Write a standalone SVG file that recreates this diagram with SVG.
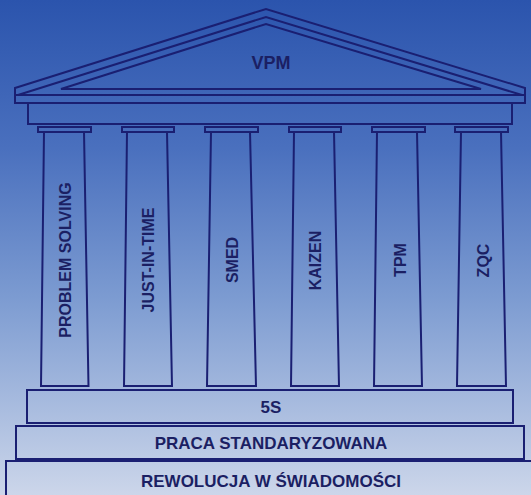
<svg xmlns="http://www.w3.org/2000/svg" width="531" height="495" viewBox="0 0 531 495">
  <defs>
    <linearGradient id="bg" x1="0" y1="0" x2="0" y2="1">
      <stop offset="0" stop-color="#2b54ad"/>
      <stop offset="0.3" stop-color="#4a70be"/>
      <stop offset="0.6" stop-color="#7c9bd1"/>
      <stop offset="1" stop-color="#ccd6ea"/>
    </linearGradient>
  </defs>
  <style>
    .ln { fill: none; stroke: #1a1f72; stroke-width: 2; stroke-linejoin: miter; }
    .tx { font-family: "Liberation Sans", Arial, sans-serif; font-weight: bold; fill: #1b1f63; text-anchor: middle; }
    .pil { font-size: 16px; }
    .base { font-size: 17px; }
  </style>
  <rect x="0" y="0" width="531" height="495" fill="url(#bg)"/>

  <g id="roof">
    <polygon class="ln" points="15,88 266,9 525,88 525,103 15,103"/>
    <line class="ln" x1="15" y1="95" x2="525" y2="95"/>
    <polyline class="ln" points="18,95 266,17 522,95"/>
    <polygon class="ln" points="61,89 266,24 481,89"/>
    <text class="tx" x="271" y="69" font-size="18">VPM</text>
  </g>

  <g id="architrave">
    <rect class="ln" x="28" y="103" width="484" height="21"/>
  </g>

  <g id="col-problem-solving">
    <rect class="ln" x="38" y="127" width="53" height="5"/>
    <polygon class="ln" points="44,132 84,132 88.5,386 41,386"/>
    <text class="tx pil" transform="translate(70.5,260) rotate(-90)">PROBLEM SOLVING</text>
  </g>
  <g id="col-just-in-time">
    <rect class="ln" x="122" y="127" width="52" height="5"/>
    <polygon class="ln" points="127,132 167,132 172,386 124,386"/>
    <text class="tx pil" transform="translate(154,260) rotate(-90)">JUST-IN-TIME</text>
  </g>
  <g id="col-smed">
    <rect class="ln" x="205" y="127" width="53" height="5"/>
    <polygon class="ln" points="211,132 250,132 256,386 207,386"/>
    <text class="tx pil" transform="translate(237.5,260) rotate(-90)">SMED</text>
  </g>
  <g id="col-kaizen">
    <rect class="ln" x="289" y="127" width="52" height="5"/>
    <polygon class="ln" points="294,132 334,132 339,386 291,386"/>
    <text class="tx pil" transform="translate(320.5,260.5) rotate(-90)">KAIZEN</text>
  </g>
  <g id="col-tpm">
    <rect class="ln" x="372" y="127" width="53" height="5"/>
    <polygon class="ln" points="377,132 417,132 422,386 374,386"/>
    <text class="tx pil" transform="translate(405.5,260) rotate(-90)">TPM</text>
  </g>
  <g id="col-zqc">
    <rect class="ln" x="455" y="127" width="53" height="5"/>
    <polygon class="ln" points="461,132 501,132 506,386 457,386"/>
    <text class="tx pil" transform="translate(488.5,260.5) rotate(-90)">ZQC</text>
  </g>

  <g id="step-5s">
    <rect class="ln" x="27" y="390" width="486" height="33"/>
    <text class="tx base" x="271" y="412.5">5S</text>
  </g>
  <g id="step-praca">
    <rect class="ln" x="16" y="426" width="508" height="33"/>
    <text class="tx base" x="271" y="448.5">PRACA STANDARYZOWANA</text>
  </g>
  <g id="step-rewolucja">
    <rect class="ln" x="6" y="461" width="540" height="50"/>
    <text class="tx base" x="271" y="487">REWOLUCJA W ŚWIADOMOŚCI</text>
  </g>
</svg>
